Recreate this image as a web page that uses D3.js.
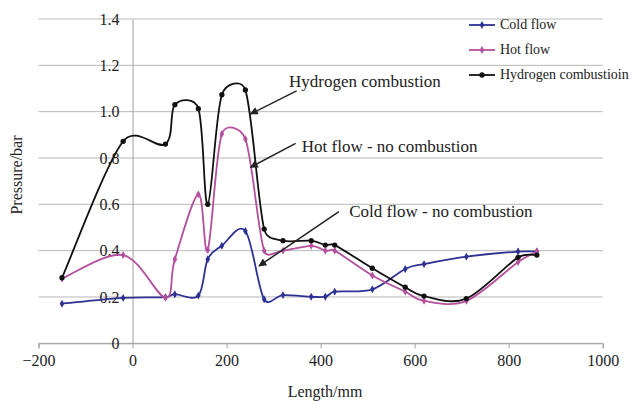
<!DOCTYPE html>
<html>
<head>
<meta charset="utf-8">
<script src="https://cdn.jsdelivr.net/npm/d3@7"></script>
<style>
  body { margin: 0; background: #fff; }
  svg { display: block; }
  svg text { font-family: "Liberation Serif", "Times New Roman", serif; }
</style>
</head>
<body>
<div id="chart"></div>
<script>
// Lengths (mm) where pressure was measured
const lengths = [-150, -20, 70, 90, 140, 160, 190, 240, 280, 320, 380, 410, 430, 510, 580, 620, 710, 820, 860]

// Pressure (bar) for each series
const coldFlow = [0.171, 0.196, 0.199, 0.212, 0.206, 0.363, 0.421, 0.485, 0.19, 0.208, 0.201, 0.201, 0.223, 0.233, 0.321, 0.342, 0.374, 0.396, 0.396]
const hotFlow = [0.28, 0.381, 0.197, 0.363, 0.643, 0.403, 0.904, 0.882, 0.40, 0.40, 0.421, 0.40, 0.40, 0.293, 0.223, 0.183, 0.183, 0.351, 0.396]
const hydrogen = [0.283, 0.872, 0.86, 1.03, 1.013, 0.60, 1.073, 1.094, 0.493, 0.443, 0.443, 0.424, 0.424, 0.324, 0.242, 0.204, 0.193, 0.371, 0.381]

const seriesNames = ["Cold flow", "Hot flow", "Hydrogen combustioin"]
const xTicks = [-200, 0, 200, 400, 600, 800, 1000]
const yTicks = [0, 0.2, 0.4, 0.6, 0.8, 1.0, 1.2, 1.4]

// Call-out labels: text anchor, arrow start and arrow tip (data units)
const notes = [
  { text: "Hydrogen combustion", tx: 333, ty: 1.107, x1: 349, y1: 1.09, x2: 251, y2: 0.99 },
  { text: "Hot flow - no combustion", tx: 360, ty: 0.826, x1: 347, y1: 0.863, x2: 251, y2: 0.76 },
  { text: "Cold flow - no combustion", tx: 461, ty: 0.545, x1: 439, y1: 0.568, x2: 269, y2: 0.334 }
]

const width = 634
const height = 401
const plotLeft = 38.5, plotRight = 602.7, plotTop = 19, plotBottom = 343.3

const colors = ["#2e3192", "#b4509e", "#111111"]
const symbols = [d3.symbolDiamond, d3.symbolDiamond, d3.symbolCircle]
const symbolSizes = [18, 18, 22]

//Spreadsheet-style smoothing: catmull-rom handles, capped at half the segment length
function SmoothCurve(context) { this._context = context }
SmoothCurve.prototype = {
  areaStart: function() { this._line = 0 },
  areaEnd: function() { this._line = NaN },
  lineStart: function() { this._pts = [] },
  point: function(x, y) { this._pts.push([+x, +y]) },
  lineEnd: function() {
    let p = this._pts, ctx = this._context, n = p.length
    if (!n) return
    ctx.moveTo(p[0][0], p[0][1])
    let handle = function(a, b, len) {
      let dx = (b[0] - a[0]) / 6, dy = (b[1] - a[1]) / 6
      let h = Math.hypot(dx, dy)
      let k = h > len / 2 ? (len / 2) / h : 1
      return [dx * k, dy * k]
    }
    for (let i = 0; i < n - 1; i++) {
      let p0 = p[Math.max(i - 1, 0)], p1 = p[i], p2 = p[i + 1], p3 = p[Math.min(i + 2, n - 1)]
      let len = Math.hypot(p2[0] - p1[0], p2[1] - p1[1])
      let h1 = handle(p0, p2, len), h2 = handle(p1, p3, len)
      ctx.bezierCurveTo(p1[0] + h1[0], p1[1] + h1[1], p2[0] - h2[0], p2[1] - h2[1], p2[0], p2[1])
    }
  }
}
const curveSmooth = context => new SmoothCurve(context)

let svg = d3.select("#chart")
            .append("svg")
            .attr("width", width)
            .attr("height", height)

let xScale = d3.scaleLinear()
               .domain([-200, 1000])
               .range([plotLeft, plotRight])
let yScale = d3.scaleLinear()
               .domain([0, 1.4])
               .range([plotBottom, plotTop])

//Gridlines
svg.append("g")
   .selectAll("line")
   .data(yTicks)
   .enter().append("line")
   .attr("x1", plotLeft)
   .attr("x2", plotRight)
   .attr("y1", d => yScale(d))
   .attr("y2", d => yScale(d))
   .attr("stroke", "#b8b8b8")
   .attr("stroke-width", 1)

//x axis, sitting on y = 0
let xAxis = d3.axisBottom(xScale)
              .tickValues(xTicks)
              .tickSize(5)
              .tickPadding(8)
              .tickFormat(d3.format("d"))
let gx = svg.append("g")
   .attr("transform", "translate(0," + yScale(0) + ")")
   .call(xAxis)
   .attr("font-family", null)
   .attr("font-size", 16)
gx.select(".domain").attr("stroke", "#a0a0a0")
gx.selectAll(".tick line").attr("stroke", "#a0a0a0")
gx.selectAll(".tick text")
  .attr("fill", "#222")
  .attr("dy", "0.6em")

//y axis, sitting on x = 0
let yAxis = d3.axisLeft(yScale)
              .tickValues(yTicks)
              .tickSize(0)
              .tickPadding(13)
              .tickFormat(d => d === 0 ? "0" : d3.format(".1f")(d))
let gy = svg.append("g")
   .attr("transform", "translate(" + xScale(0) + ",0)")
   .call(yAxis)
   .attr("font-family", null)
   .attr("font-size", 16)
gy.select(".domain").attr("stroke", "#a0a0a0")
gy.selectAll(".tick text")
  .attr("fill", "#222")

//Axis titles
svg.append("text")
   .attr("transform", "rotate(-90)")
   .attr("x", -175)
   .attr("y", 22)
   .attr("text-anchor", "middle")
   .attr("font-size", 16)
   .attr("fill", "#222")
   .text("Pressure/bar")

svg.append("text")
   .attr("x", 325)
   .attr("y", 397)
   .attr("text-anchor", "middle")
   .attr("font-size", 16)
   .attr("fill", "#222")
   .text("Length/mm")

//Series
let allSeries = [coldFlow, hotFlow, hydrogen]
let line = d3.line()
             .x(d => xScale(d[0]))
             .y(d => yScale(d[1]))
             .curve(curveSmooth)

allSeries.forEach(function(values, i) {
  let pts = lengths.map((x, j) => [x, values[j]])
  svg.append("path")
     .datum(pts)
     .attr("d", line)
     .attr("fill", "none")
     .attr("stroke", colors[i])
     .attr("stroke-width", 1.8)
  svg.append("g")
     .selectAll("path")
     .data(pts)
     .enter().append("path")
     .attr("transform", d => "translate(" + xScale(d[0]) + "," + yScale(d[1]) + ")")
     .attr("d", d3.symbol().type(symbols[i]).size(symbolSizes[i]))
     .attr("fill", colors[i])
})

//Annotations
svg.append("defs")
   .append("marker")
   .attr("id", "arrow")
   .attr("viewBox", "0 0 10 10")
   .attr("refX", 9)
   .attr("refY", 5)
   .attr("markerWidth", 10)
   .attr("markerHeight", 8)
   .attr("markerUnits", "userSpaceOnUse")
   .attr("orient", "auto")
   .append("path")
   .attr("d", "M0,0 L10,5 L0,10 Z")
   .attr("fill", "#222")

let note = svg.selectAll(".note")
              .data(notes)
              .enter().append("g")
              .attr("class", "note")
note.append("line")
    .attr("x1", d => xScale(d.x1))
    .attr("y1", d => yScale(d.y1))
    .attr("x2", d => xScale(d.x2))
    .attr("y2", d => yScale(d.y2))
    .attr("stroke", "#222")
    .attr("stroke-width", 1.5)
    .attr("marker-end", "url(#arrow)")
note.append("text")
    .attr("x", d => xScale(d.tx))
    .attr("y", d => yScale(d.ty))
    .attr("font-size", 17)
    .attr("fill", "#222")
    .text(d => d.text)

//Legend
let legend = svg.selectAll(".legend")
                .data(seriesNames)
                .enter().append("g")
                .attr("class", "legend")
                .attr("transform", (d, i) => "translate(469," + (25 + i * 25) + ")")
legend.append("line")
      .attr("x1", 0)
      .attr("x2", 26)
      .attr("stroke", (d, i) => colors[i])
      .attr("stroke-width", 1.8)
legend.append("path")
      .attr("transform", "translate(13,0)")
      .attr("d", (d, i) => d3.symbol().type(symbols[i]).size(symbolSizes[i])())
      .attr("fill", (d, i) => colors[i])
legend.append("text")
      .attr("x", 31)
      .attr("dy", "0.32em")
      .attr("font-size", 14)
      .attr("fill", "#222")
      .text(d => d)
</script>
</body>
</html>
